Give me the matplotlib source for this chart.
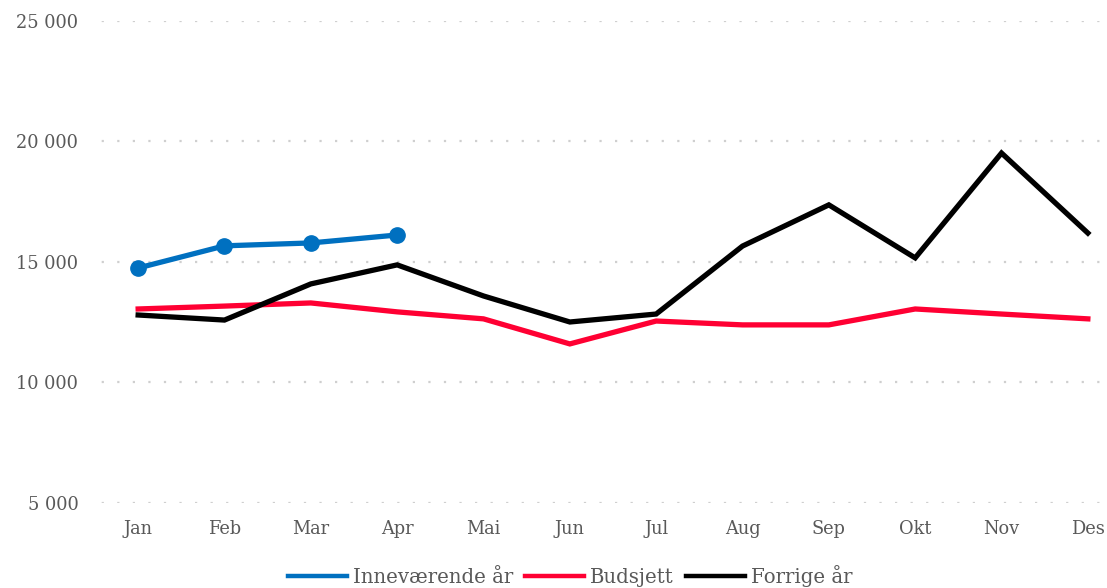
import numpy as np
from matplotlib import pyplot as plt

months = ['Jan', 'Feb', 'Mar', 'Apr', 'Mai', 'Jun', 'Jul', 'Aug', 'Sep', 'Okt', 'Nov', 'Des']
innevaerende = [14750, 15670, 15790, 16120]
budsjett = [13050, 13170, 13300, 12930, 12640, 11600, 12550, 12390, 12390, 13050, 12840, 12640]
forrige = [12800, 12590, 14090, 14880, 13590, 12510, 12840, 15660, 17370, 15170, 19520, 16200]
yticks = [5000, 10000, 15000, 20000, 25000]

text_col = '#595959'
plt.rcParams['font.family'] = ['DejaVu Serif']

fig = plt.figure(figsize=(11.07, 5.88), dpi=100)
ax = fig.add_axes([0.0858, 0.1446, 0.9359, 0.8197])

x = np.arange(len(months))
ax.plot(x, budsjett, color='#FF0033', lw=3.8, solid_joinstyle='miter',
        label='Budsjett', zorder=3)
ax.plot(x, forrige, color='black', lw=3.8, solid_joinstyle='miter',
        label='Forrige år', zorder=4)
ax.plot(x[:len(innevaerende)], innevaerende, color='#0070C0', lw=3.8,
        marker='o', ms=11, label='Inneværende år', zorder=5)

ax.set_xlim(-0.5, len(months) - 0.5)
ax.set_ylim(5000, 25000)
ax.set_yticks(yticks)
ax.set_yticklabels(['{:,}'.format(v).replace(',', ' ') for v in yticks])
ax.set_xticks(x)
ax.set_xticklabels(months)
ax.tick_params(length=0, labelsize=12.8, labelcolor=text_col)
ax.tick_params(axis='y', pad=12)
ax.tick_params(axis='x', pad=12)
ax.yaxis.grid(True, color='#cfcfcf', linestyle=(4, (1, 6)), lw=1.6)
ax.set_axisbelow(True)
for s in ax.spines.values():
    s.set_visible(False)

handles, labels = ax.get_legend_handles_labels()
order = [2, 0, 1]
fig.legend([handles[i] for i in order], [labels[i] for i in order],
           loc='center', bbox_to_anchor=(0.515, 0.02), ncol=3, frameon=False,
           fontsize=14.2, labelcolor=text_col, handlelength=3.0, handletextpad=0.3,
           columnspacing=0.6)
for h in fig.legends[0].legend_handles:
    h.set_marker('')
    h.set_linewidth(3.2)

fig.savefig('out.png', dpi=100)
